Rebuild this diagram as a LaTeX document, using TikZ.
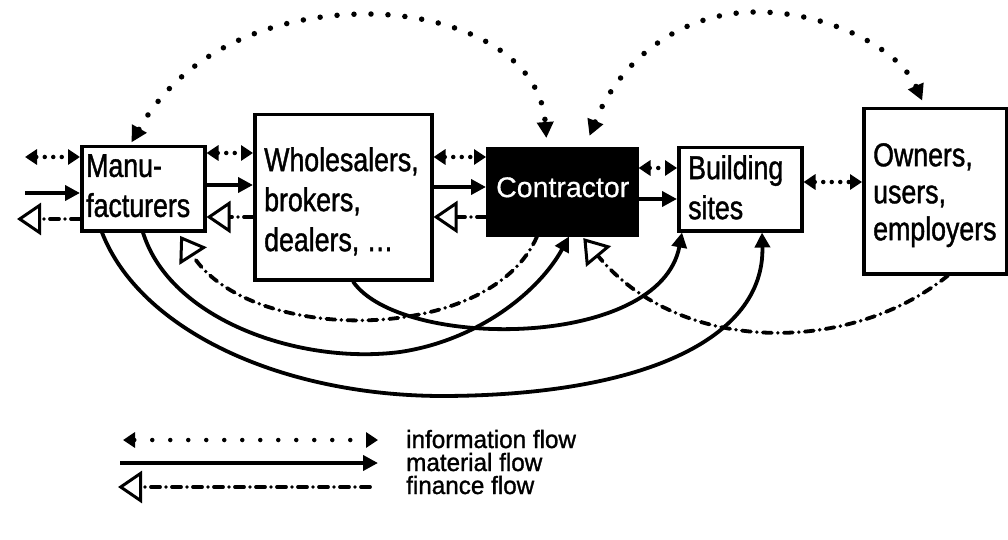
\documentclass[tikz,border=0pt]{standalone}
\usepackage{fontspec}
\setmainfont{Liberation Sans}
\newfontfamily\boxfont[FakeStretch=0.81,FakeBold=1.2]{Liberation Sans}
\newfontfamily\legfont[FakeStretch=0.97,FakeBold=1.2]{Liberation Sans}
\newfontfamily\confont[FakeBold=0.6]{Liberation Sans}
\usetikzlibrary{arrows.meta}
\begin{document}
\begin{tikzpicture}[x=1pt,y=-1pt,
  box/.style={draw, line width=3.5pt, rectangle, inner sep=0pt, anchor=north west},
  txt/.style={inner sep=0pt, anchor=north west, align=left,
    font=\boxfont\fontsize{33}{40}\selectfont},
  legtxt/.style={inner sep=0pt, anchor=base west, font=\legfont\fontsize{25}{25}\selectfont},
  info/.style={line width=4.5pt, line cap=round, dash pattern=on 0pt off 8.5pt,
    {Triangle[length=12pt,width=15pt]}-{Triangle[length=12pt,width=15pt]}},
  infoarc/.style={line width=5.5pt, line cap=round, dash pattern=on 0pt off 17pt,
    {Triangle[length=16pt,width=16pt]}-{Triangle[length=16pt,width=16pt]}},
  material/.style={line width=3.8pt, -{Triangle[length=15pt,width=15pt]}},
  finance/.style={line width=3.8pt, line cap=round,
    dash pattern=on 9pt off 6pt on 0pt off 6pt,
    -{Triangle[length=24pt,width=32pt,fill=white,line width=3pt]}},
]
\useasboundingbox (0,0) rectangle (1008,540);

% boxes
\node[box, minimum width=123pt, minimum height=84pt] (man) at (80,145) {};
\node[box, minimum width=177pt, minimum height=165pt] (whole) at (253,113) {};
\node[box, fill=black, minimum width=149pt, minimum height=86pt] (con) at (486,147) {};
\node[box, minimum width=123pt, minimum height=83pt] (bld) at (677,146) {};
\node[box, minimum width=143pt, minimum height=165pt] (own) at (862,107) {};

% box texts
\node[txt] (mantx) at (86,154) {Manu-\\facturers};
\node[txt] (wholetx) at (264,147) {Wholesalers,\\brokers,\\dealers, \dots};
\node[inner sep=0pt, anchor=north west, text=white, font=\confont\fontsize{28.5}{30}\selectfont]
  (contx) at (496,177) {Contractor};
\node[txt] (bldtx) at (688,155) {Building\\sites};
\node[txt, font=\boxfont\fontsize{33}{37}\selectfont] (owntx) at (873,143) {Owners,\\users,\\employers};

% free ends on the left
\coordinate (inL) at (25,157);
\coordinate (maL) at (25,193);
\coordinate (fiL) at (17,219);

% information flow between neighbours
\draw[info] (inL) -- (man.west |- inL);
\draw[info] (man.east |- 0,153) -- (whole.west |- 0,153);
\draw[info] (whole.east |- 0,157) -- (con.west |- 0,157);
\draw[info] (con.east |- 0,168) -- (bld.west |- 0,168);
\draw[info] (bld.east |- 0,182) -- (own.west |- 0,182);

% material flow between neighbours
\draw[material] (maL) -- (man.west |- maL);
\draw[material] (man.east |- 0,185) -- (whole.west |- 0,185);
\draw[material] (whole.east |- 0,187) -- (con.west |- 0,187);
\draw[material] (con.east |- 0,199) -- (bld.west |- 0,199);

% finance flow between neighbours
\draw[finance] (man.west |- fiL) -- (fiL);
\draw[finance] (whole.west |- 0,217) -- (man.east |- 0,217);
\draw[finance] (con.west |- 0,217) -- (whole.east |- 0,217);

% long information arcs
\draw[infoarc, shorten <=3pt, shorten >=9pt]
  (man.north -| 130,0) .. controls (190,40) and (290,14) .. (367,14)
  .. controls (450,14) and (540,50) .. (con.north -| 547,0);
\draw[infoarc, shorten <=12pt, shorten >=7pt]
  (con.north -| 585,0) .. controls (620,60) and (680,12) .. (757,12)
  .. controls (830,12) and (900,50) .. (own.north -| 925,0);

% long material curves
\draw[material]
  (man.south -| 102,0) .. controls (140,330) and (280,395) .. (440,396)
  .. controls (640,396) and (765,340) .. (bld.south -| 762,0);
\draw[material]
  (man.south -| 143,0) .. controls (170,320) and (300,365) .. (400,352)
  .. controls (480,340) and (540,290) .. (con.south -| 569,0);
\draw[material]
  (whole.south -| 353,0) .. controls (400,350) and (660,350) .. (bld.south -| 682,0);

% long finance curves
\draw[finance, shorten >=4pt]
  (con.south -| 537,0) .. controls (490,345) and (250,345) .. (man.south -| 178,0);
\draw[finance, shorten >=2pt]
  (own.south -| 948,0) .. controls (850,355) and (680,355) .. (con.south -| 582,0);

% legend
\coordinate (l1a) at (123,440);
\coordinate (l1b) at (378,440);
\coordinate (l2a) at (120,463);
\coordinate (l2b) at (378,463);
\coordinate (l3a) at (370,487);
\coordinate (l3b) at (118,487);
\draw[info, dash pattern=on 0pt off 18pt] (l1a) -- (l1b);
\draw[material] (l2a) -- (l2b);
\draw[finance] (l3a) -- (l3b);
\node[legtxt] (lt1) at (406,448) {information flow};
\node[legtxt] (lt2) at (406,471) {material flow};
\node[legtxt] (lt3) at (406,494) {finance flow};
\end{tikzpicture}
\end{document}
